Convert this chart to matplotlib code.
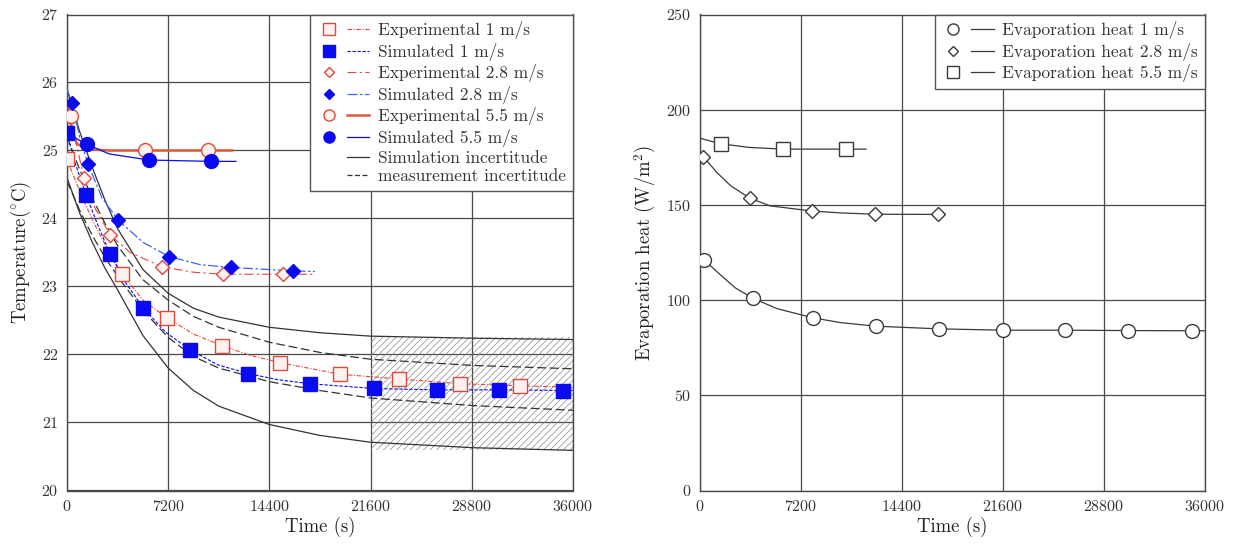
import matplotlib
matplotlib.use('Agg')
import matplotlib.pyplot as plt
from matplotlib.lines import Line2D
from matplotlib.legend_handler import HandlerTuple

plt.rcParams['font.family'] = 'cmr10'
plt.rcParams['mathtext.fontset'] = 'cm'
plt.rcParams['axes.formatter.use_mathtext'] = True
plt.rcParams['hatch.linewidth'] = 0.5

# ---------------- data: left chart (temperature) ----------------
x_ticks = [0, 7200, 14400, 21600, 28800, 36000]
temp_ticks = [20, 21, 22, 23, 24, 25, 26, 27]

# markers
exp1_t = [0, 3913, 7115, 11020, 15150, 19420, 23620, 27960, 32230]
exp1_T = [24.87, 23.19, 22.54, 22.13, 21.88, 21.71, 21.64, 21.57, 21.54]
sim1_t = [0, 1350, 3060, 5400, 8750, 12880, 17290, 21840, 26320, 30740, 35290]
sim1_T = [25.25, 24.35, 23.48, 22.69, 22.07, 21.72, 21.57, 21.50, 21.48, 21.48, 21.47]
exp28_t = [1210, 3060, 6760, 11100, 15370]
exp28_T = [24.60, 23.76, 23.29, 23.18, 23.18]
sim28_t = [360, 1500, 3630, 7260, 11670, 16080]
sim28_T = [25.70, 24.80, 23.98, 23.44, 23.28, 23.23]
exp55_t = [260, 5550, 10030]
exp55_T = [25.50, 25.00, 25.00]
sim55_t = [1420, 5830, 10240]
sim55_T = [25.09, 24.86, 24.84]

# curves
exp1_line_t = [0, 1000, 2000, 3000, 3913, 5400, 7115, 9000, 11020, 13000, 15150, 19420, 23620, 27960, 32230, 35700]
exp1_line_T = [24.87, 24.35, 23.90, 23.50, 23.19, 22.80, 22.54, 22.30, 22.13, 21.99, 21.88, 21.71, 21.64, 21.57, 21.54, 21.52]
sim1_line_t = [0, 600, 1350, 2200, 3060, 4200, 5400, 7000, 8750, 10700, 12880, 15000, 17290, 21840, 26320, 30740, 36000]
sim1_line_T = [25.25, 24.80, 24.35, 23.90, 23.48, 23.05, 22.69, 22.33, 22.07, 21.85, 21.72, 21.63, 21.57, 21.50, 21.48, 21.48, 21.47]
exp28_line_t = [0, 600, 1210, 2000, 3060, 4500, 6760, 9000, 11100, 15370, 17640]
exp28_line_T = [25.70, 25.15, 24.60, 24.15, 23.76, 23.50, 23.29, 23.21, 23.18, 23.18, 23.18]
sim28_line_t = [0, 360, 900, 1500, 2500, 3630, 5400, 7260, 9500, 11670, 16080, 17640]
sim28_line_T = [25.90, 25.70, 25.20, 24.80, 24.30, 23.98, 23.65, 23.44, 23.32, 23.28, 23.23, 23.22]
exp55_line_t = [0, 700, 1400, 3000, 11740]
exp55_line_T = [25.55, 25.10, 25.02, 25.00, 25.00]
sim55_line_t = [0, 700, 1420, 3000, 5830, 10240, 12020]
sim55_line_T = [25.30, 25.17, 25.09, 24.95, 24.86, 24.84, 24.84]

inc_t = [0, 900, 1800, 2700, 3600, 5400, 7200, 9000, 10800, 14400, 18000, 21600, 28800, 36000]
sim_inc_hi = [25.90, 25.28, 24.75, 24.27, 23.85, 23.25, 22.90, 22.68, 22.55, 22.40, 22.32, 22.27, 22.24, 22.22]
sim_inc_lo = [24.60, 24.08, 23.65, 23.27, 22.95, 22.28, 21.80, 21.47, 21.24, 20.97, 20.81, 20.71, 20.63, 20.59]
meas_inc_hi = [25.20, 24.72, 24.30, 23.93, 23.60, 23.10, 22.80, 22.56, 22.40, 22.18, 22.03, 21.93, 21.84, 21.79]
meas_inc_lo = [24.55, 24.12, 23.75, 23.43, 23.15, 22.65, 22.25, 21.97, 21.80, 21.60, 21.47, 21.36, 21.25, 21.18]

hatch_t = [21600, 36000]
hatch_lo = [20.60, 20.60]
hatch_hi = [22.25, 22.25]

# ---------------- data: right chart (evaporation heat) ----------------
heat_ticks = [0, 50, 100, 150, 200, 250]
ev1_t = [300, 3780, 8040, 12520, 17030, 21570, 26000, 30500, 35040]
ev1_q = [121.0, 100.9, 90.7, 86.3, 84.9, 84.2, 84.2, 84.0, 83.9]
ev28_t = [235, 3560, 7960, 12480, 16990]
ev28_q = [175.4, 153.5, 146.8, 145.1, 145.0]
ev55_t = [1470, 5900, 10390]
ev55_q = [182.1, 179.3, 179.3]

ev1_line_t = [300, 1500, 2500, 3780, 5500, 8040, 10000, 12520, 17030, 21570, 26000, 30500, 35040, 36000]
ev1_line_q = [121.0, 113.0, 106.5, 100.9, 95.5, 90.7, 88.2, 86.3, 84.9, 84.2, 84.2, 84.0, 83.9, 83.9]
ev28_line_t = [235, 1200, 2200, 3560, 5000, 7960, 10000, 12480, 16990, 17470]
ev28_line_q = [175.4, 167.0, 160.0, 153.5, 149.5, 146.8, 145.8, 145.1, 145.0, 145.0]
ev55_line_t = [0, 1470, 3500, 5900, 10390, 11830]
ev55_line_q = [185.0, 182.1, 180.2, 179.3, 179.3, 179.3]

# ---------------- styling ----------------
RED = '#e0483c'
ORANGE = '#dd5a3a'
BLUE = '#0a0af0'
LBLUE = '#4060ff'
GRID = '#4a4a4a'

fig = plt.figure(figsize=(12.36, 5.45), dpi=100)
axL = fig.add_axes([67 / 1236, 54.5 / 545, 506 / 1236, 476 / 545])
axR = fig.add_axes([700 / 1236, 54.5 / 545, 505 / 1236, 476 / 545])

for ax in (axL, axR):
    ax.set_axisbelow(True)
    ax.grid(True, color=GRID, lw=0.9)
    for s in ax.spines.values():
        s.set_color(GRID)
        s.set_linewidth(1.0)
    ax.tick_params(length=0, pad=6, labelsize=11.5, colors='#333333')
    ax.set_xlim(0, 36000)
    ax.set_xticks(x_ticks)
    ax.set_xlabel('Time (s)', fontsize=13.5, color='#222222', labelpad=2)

# hatched box
axL.fill_between(hatch_t, hatch_lo, hatch_hi, facecolor='none', edgecolor='#8a8a8a',
                 hatch='/////', linewidth=0, zorder=1)

# incertitude curves
axL.plot(inc_t, sim_inc_hi, color='#333333', lw=0.9, zorder=2)
axL.plot(inc_t, sim_inc_lo, color='#333333', lw=0.9, zorder=2)
axL.plot(inc_t, meas_inc_hi, color='#333333', lw=0.9, ls=(0, (7, 3)), zorder=2)
axL.plot(inc_t, meas_inc_lo, color='#333333', lw=0.9, ls=(0, (7, 3)), zorder=2)

# lines
st_exp1 = dict(color=RED, lw=0.8, ls=(0, (4, 1.5, 1, 1.5)))
st_sim1 = dict(color=BLUE, lw=0.8, ls=(0, (3, 1.5)))
st_exp28 = dict(color=RED, lw=0.8, ls=(0, (8, 3, 2, 3)))
st_sim28 = dict(color=LBLUE, lw=0.9, ls=(0, (8, 2, 2, 2)))
st_exp55 = dict(color=ORANGE, lw=1.8, ls='-')
st_sim55 = dict(color=BLUE, lw=0.9, ls='-')

axL.plot(exp1_line_t, exp1_line_T, zorder=3, **st_exp1)
axL.plot(sim1_line_t, sim1_line_T, zorder=3, **st_sim1)
axL.plot(exp28_line_t, exp28_line_T, zorder=3, **st_exp28)
axL.plot(sim28_line_t, sim28_line_T, zorder=3, **st_sim28)
axL.plot(exp55_line_t, exp55_line_T, zorder=3, **st_exp55)
axL.plot(sim55_line_t, sim55_line_T, zorder=3, **st_sim55)

# markers
mk_exp1 = dict(marker='s', ms=10, mfc='#fff2ee', mec=RED, mew=1.0, ls='none')
mk_sim1 = dict(marker='s', ms=10, mfc=BLUE, mec=BLUE, mew=1.0, ls='none')
mk_exp28 = dict(marker='D', ms=7, mfc='#fff2ee', mec=RED, mew=1.0, ls='none')
mk_sim28 = dict(marker='D', ms=7, mfc=BLUE, mec=BLUE, mew=1.0, ls='none')
mk_exp55 = dict(marker='o', ms=10, mfc='#fff2ee', mec=RED, mew=1.0, ls='none')
mk_sim55 = dict(marker='o', ms=10, mfc=BLUE, mec=BLUE, mew=1.0, ls='none')

axL.plot(exp1_t, exp1_T, zorder=4, **mk_exp1)
axL.plot(sim1_t, sim1_T, zorder=5, **mk_sim1)
axL.plot(exp28_t, exp28_T, zorder=4, **mk_exp28)
axL.plot(sim28_t, sim28_T, zorder=5, **mk_sim28)
axL.plot(exp55_t, exp55_T, zorder=4, **mk_exp55)
axL.plot(sim55_t, sim55_T, zorder=5, **mk_sim55)

axL.set_ylim(20, 27)
axL.set_yticks(temp_ticks)
axL.set_ylabel(r'Temperature($^{\circ}$C)', fontsize=13.5, color='#222222', labelpad=6)

def H(mk, st):
    m = dict(mk)
    m['ms'] = m['ms'] * 0.8
    return (Line2D([], [], **m), Line2D([], [], **st))

blank = Line2D([], [], ls='none')
hL = [H(mk_exp1, st_exp1), H(mk_sim1, st_sim1), H(mk_exp28, st_exp28), H(mk_sim28, st_sim28),
      H(mk_exp55, st_exp55), H(mk_sim55, st_sim55),
      (blank, Line2D([], [], color='#333333', lw=0.9)),
      (blank, Line2D([], [], color='#333333', lw=0.9, ls=(0, (4, 2))))]
lL = ['Experimental 1 m/s', 'Simulated 1 m/s', 'Experimental 2.8 m/s', 'Simulated 2.8 m/s',
      'Experimental 5.5 m/s', 'Simulated 5.5 m/s', 'Simulation incertitude', 'measurement incertitude']
legL = axL.legend(hL, lL, loc='upper right', borderaxespad=0, fontsize=12.5, fancybox=False,
                  framealpha=1, edgecolor='#555555', handlelength=3.0, handletextpad=0.5,
                  labelspacing=0.2, borderpad=0.4,
                  handler_map={tuple: HandlerTuple(ndivide=None, pad=0.4)})
legL.get_frame().set_linewidth(1.0)
for t in legL.get_texts():
    t.set_color('#333333')

# ---------------- right chart ----------------
RC = '#3a3a3a'
axR.plot(ev1_line_t, ev1_line_q, color=RC, lw=0.9, zorder=3)
axR.plot(ev28_line_t, ev28_line_q, color=RC, lw=0.9, zorder=3)
axR.plot(ev55_line_t, ev55_line_q, color=RC, lw=0.9, zorder=3)
mk_e1 = dict(marker='o', ms=10, mfc='white', mec=RC, mew=1.0, ls='none')
mk_e28 = dict(marker='D', ms=7, mfc='white', mec=RC, mew=1.0, ls='none')
mk_e55 = dict(marker='s', ms=10, mfc='white', mec=RC, mew=1.0, ls='none')
axR.plot(ev1_t, ev1_q, zorder=4, **mk_e1)
axR.plot(ev28_t, ev28_q, zorder=4, **mk_e28)
axR.plot(ev55_t, ev55_q, zorder=4, **mk_e55)
axR.set_ylim(0, 250)
axR.set_yticks(heat_ticks)
axR.set_ylabel(r'Evaporation heat (W/m$^2$)', fontsize=13.5, color='#222222', labelpad=6)

st_r = dict(color=RC, lw=0.9)
hR = [H(mk_e1, st_r), H(mk_e28, st_r), H(mk_e55, st_r)]
lR = ['Evaporation heat 1 m/s', 'Evaporation heat 2.8 m/s', 'Evaporation heat 5.5 m/s']
legR = axR.legend(hR, lR, loc='upper right', borderaxespad=0, fontsize=12.5, fancybox=False,
                  framealpha=1, edgecolor='#555555', handlelength=3.0, handletextpad=0.5,
                  labelspacing=0.2, borderpad=0.4,
                  handler_map={tuple: HandlerTuple(ndivide=None, pad=0.4)})
legR.get_frame().set_linewidth(1.0)
for t in legR.get_texts():
    t.set_color('#333333')

fig.savefig('out.png', dpi=100)
